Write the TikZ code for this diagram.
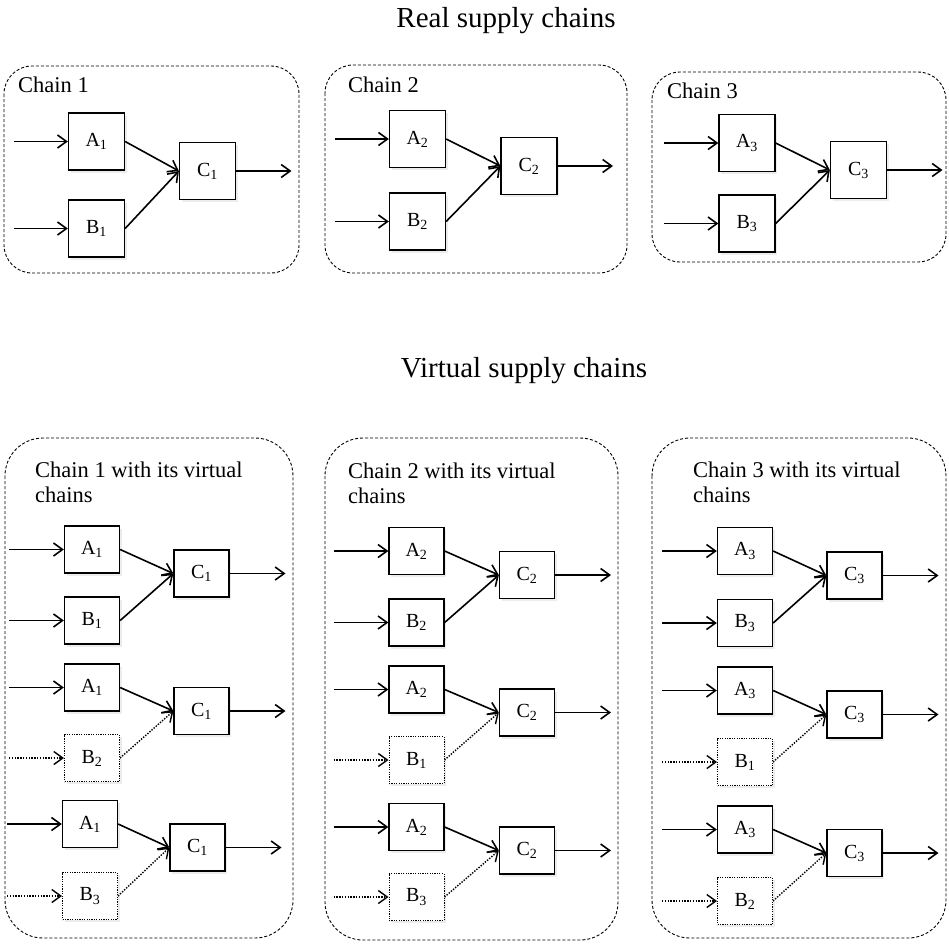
\documentclass[tikz,border=0pt]{standalone}
\usepackage{fontspec}
\setmainfont{Liberation Serif}
\usetikzlibrary{arrows.meta,shadows}

% One row of a supply chain: A and B feed C.
% #1 name prefix, #2 x of A/B, #3 y of A, #4 y of B, #5 x of C, #6 y of C,
% #7 index of A and C, #8 index of B, #9 style of the B branch
\newcommand\supplyrow[9]{%
  \node[unit,#9] (#1a) at (#2,#3) {A\textsubscript{#7}};
  \node[unit,#9,#9box] (#1b) at (#2,#4) {B\textsubscript{#8}};
  \node[unit,#9] (#1c) at (#5,#6) {C\textsubscript{#7}};
  \coordinate (#1ia) at ([xshift=-83pt]#1a.center);
  \coordinate (#1ib) at ([xshift=-83pt]#1b.center);
  \coordinate (#1o) at ([xshift=84pt]#1c.center);
  \draw[flow] (#1ia) -- (#1a);
  \draw[flow,#9line] (#1ib) -- (#1b);
  \draw[flow] (#1a.east) -- (#1c.west);
  \draw[flow,#9line] (#1b.east) -- (#1c.west);
  \draw[flow] (#1c) -- (#1o);
}

\begin{document}
\begin{tikzpicture}[x=1pt,y=-1pt,
  title/.style={font=\fontsize{29}{34}\selectfont, anchor=base},
  framelabel/.style={font=\fontsize{22.5}{25}\selectfont, anchor=base west,
    align=left, inner sep=0pt},
  frame/.style={draw, line width=0.9pt, dash pattern=on 3pt off 2pt},
  unitsize/.style={minimum height=57pt},
  unit/.style={draw, fill=white, line width=1.3pt, minimum width=56pt, unitsize,
    inner sep=0pt, font=\fontsize{20}{22}\selectfont,
    drop shadow={shadow xshift=2pt, shadow yshift=-2.5pt, opacity=0.15}},
  flow/.style={line width=1.6pt, -{Straight Barb[length=9pt,width=13pt]}},
  % real branch: plain solid; virt branch: dotted box and dotted links
  real/.style={},
  realbox/.style={},
  realline/.style={},
  virt/.style={},
  virtbox/.style={line width=1pt, dash pattern=on 1.2pt off 1.2pt},
  virtline/.style={line width=1.4pt, dash pattern=on 1.4pt off 1.4pt},
]
\useasboundingbox (0,0) rectangle (949,943);

% ---------- real supply chains ----------
\node[title] (realtitle) at (506,27) {Real supply chains};

\draw[frame, rounded corners=28pt] (4,66) rectangle (299,273);
\draw[frame, rounded corners=28pt] (325,65) rectangle (627,273);
\draw[frame, rounded corners=28pt] (652,72) rectangle (946,262);

\node[framelabel] (lab1) at (18,92) {Chain 1};
\node[framelabel] (lab2) at (348,92) {Chain 2};
\node[framelabel] (lab3) at (667,98) {Chain 3};

\supplyrow{ra}{96.5}{141.5}{228.5}{207.5}{171}{1}{1}{real}
\supplyrow{rb}{417.5}{139}{221.5}{529}{166}{2}{2}{real}
\supplyrow{rc}{747}{143}{223.5}{858.5}{170}{3}{3}{real}

% ---------- virtual supply chains ----------
\node[title] (virttitle) at (524,377) {Virtual supply chains};

\draw[frame, rounded corners=38pt] (5,438) rectangle (293,938);
\draw[frame, rounded corners=38pt] (325,438) rectangle (618,940);
\draw[frame, rounded corners=38pt] (652,438) rectangle (946,938);

% the base anchor of a two-line label sits on its last line
\node[framelabel] (vlab1) at (35,502) {Chain 1 with its virtual\\chains};
\node[framelabel] (vlab2) at (348,503) {Chain 2 with its virtual\\chains};
\node[framelabel] (vlab3) at (693,502) {Chain 3 with its virtual\\chains};

\begin{scope}[unitsize/.style={minimum height=47pt, minimum width=55pt}]
  % chain 1 and its virtual variants
  \supplyrow{va}{92}{549.5}{620.5}{201.5}{573.5}{1}{1}{real}
  \supplyrow{vb}{92}{687.5}{758}{201.5}{711}{1}{2}{virt}
  \supplyrow{vc}{90}{824}{896}{197.5}{847.5}{1}{3}{virt}
  % chain 2 and its virtual variants
  \supplyrow{vd}{416.5}{551}{622.5}{527}{575}{2}{2}{real}
  \supplyrow{ve}{416.5}{689.5}{760}{527}{712.5}{2}{1}{virt}
  \supplyrow{vf}{416.5}{827}{897}{527}{850.5}{2}{3}{virt}
  % chain 3 and its virtual variants
  \supplyrow{vg}{745}{551}{623}{854.5}{575.5}{3}{3}{real}
  \supplyrow{vh}{745}{690.5}{762}{854.5}{714.5}{3}{1}{virt}
  \supplyrow{vi}{745}{829.5}{901}{854.5}{853}{3}{2}{virt}
\end{scope}
\end{tikzpicture}
\end{document}
